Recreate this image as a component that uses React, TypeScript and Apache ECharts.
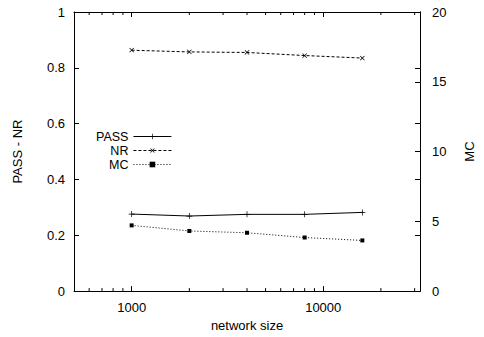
import React, { useEffect, useRef } from "react";
import * as echarts from "echarts";

const networkSize = [1000, 2000, 4000, 8000, 16000];
const passValues = [0.276, 0.269, 0.275, 0.275, 0.282];
const nrValues = [0.863, 0.857, 0.855, 0.844, 0.835];
const mcValues = [4.71, 4.31, 4.18, 3.84, 3.63];
const minorTicks = [600, 700, 800, 900, 2000, 3000, 4000, 5000, 6000, 7000, 8000, 9000, 20000, 30000];

const FONT = "Liberation Sans, Arial, Helvetica, sans-serif";
const PLUS = "path://M0,4.4L10,4.4L10,5.6L0,5.6Z M4.4,0L5.6,0L5.6,10L4.4,10Z";

export default function App() {
  const ref = useRef<HTMLDivElement>(null);
  useEffect(() => {
    if (!ref.current) return;
    const chart = echarts.init(ref.current, null, { renderer: "svg" });
    const axisText = { color: "#000", fontSize: 13, fontFamily: FONT };
    const lineAxis = { show: true, onZero: false, lineStyle: { color: "#000", width: 1 } };
    const tick = { show: true, inside: true, length: 5, lineStyle: { color: "#000", width: 1 } };
    const xBase = {
      type: "log" as const,
      logBase: 10,
      min: 500,
      max: 32000,
      axisLine: lineAxis,
      axisTick: tick,
      splitLine: { show: false },
    };
    chart.setOption({
      animation: false,
      backgroundColor: "#fff",
      textStyle: { fontFamily: FONT },
      grid: { left: 74, right: 56, top: 12, bottom: 45 },
      legend: {
        orient: "vertical",
        align: "right",
        left: 96,
        top: 130,
        padding: 0,
        itemWidth: 38,
        itemHeight: 7,
        itemGap: 1,
        data: ["PASS", "NR", "MC"],
        lineStyle: { width: 1 },
        textStyle: { color: "#000", fontSize: 12.5, lineHeight: 12, fontFamily: FONT },
        selectedMode: false,
      },
      xAxis: [
        {
          ...xBase,
          position: "bottom",
          name: "network size",
          nameLocation: "middle",
          nameGap: 27,
          nameTextStyle: axisText,
          axisLabel: {
            ...axisText,
            margin: 10,
            showMinLabel: false,
            showMaxLabel: false,
            formatter: (v: number) => String(Math.round(v)),
          },
        },
        {
          ...xBase,
          position: "top",
          axisLabel: { show: false },
        },
      ],
      yAxis: [
        {
          type: "value",
          min: 0,
          max: 1,
          interval: 0.2,
          position: "left",
          name: "PASS - NR",
          nameLocation: "middle",
          nameGap: 50,
          nameTextStyle: axisText,
          axisLine: lineAxis,
          axisTick: tick,
          axisLabel: { ...axisText, margin: 9 },
          splitLine: { show: false },
        },
        {
          type: "value",
          min: 0,
          max: 20,
          interval: 5,
          position: "right",
          name: "MC",
          nameLocation: "middle",
          nameGap: 43,
          nameTextStyle: axisText,
          axisLine: lineAxis,
          axisTick: tick,
          axisLabel: { ...axisText, margin: 12 },
          splitLine: { show: false },
        },
        {
          type: "value",
          min: 0,
          max: 1,
          interval: 0.2,
          position: "right",
          axisLine: lineAxis,
          axisTick: tick,
          axisLabel: { show: false },
          splitLine: { show: false },
        },
      ],
      series: [
        {
          name: "PASS",
          type: "line",
          xAxisIndex: 0,
          yAxisIndex: 0,
          data: networkSize.map((x, i) => [x, passValues[i]]),
          symbol: PLUS,
          symbolSize: 6,
          lineStyle: { color: "#000", width: 1, type: "solid" },
          itemStyle: { color: "#000" },
        },
        {
          name: "NR",
          type: "line",
          xAxisIndex: 0,
          yAxisIndex: 0,
          data: networkSize.map((x, i) => [x, nrValues[i]]),
          symbol: PLUS,
          symbolRotate: 45,
          symbolSize: 6,
          lineStyle: { color: "#000", width: 1, type: [3, 2] },
          itemStyle: { color: "#000" },
        },
        {
          name: "MC",
          type: "line",
          xAxisIndex: 0,
          yAxisIndex: 1,
          data: networkSize.map((x, i) => [x, mcValues[i]]),
          symbol: "rect",
          symbolSize: 4,
          lineStyle: { color: "#000", width: 1, type: [1, 2] },
          itemStyle: { color: "#000" },
        },
        {
          name: "minor",
          type: "custom",
          xAxisIndex: 0,
          yAxisIndex: 0,
          silent: true,
          data: minorTicks.map((v) => [v, 0]),
          encode: { x: 0, y: 1 },
          renderItem: (params: any, api: any) => {
            const x = api.coord([api.value(0), 0])[0];
            const cs = params.coordSys;
            const bottom = cs.y + cs.height;
            const top = cs.y;
            return {
              type: "group",
              children: [
                { type: "line", shape: { x1: x, y1: bottom, x2: x, y2: bottom - 3 }, style: { stroke: "#000", lineWidth: 1 } },
                { type: "line", shape: { x1: x, y1: top, x2: x, y2: top + 3 }, style: { stroke: "#000", lineWidth: 1 } },
              ],
            };
          },
        },
      ],
    });
    return () => chart.dispose();
  }, []);
  return <div ref={ref} style={{ width: 484, height: 337, position: "fixed", left: 0, top: 0 }} />;
}
